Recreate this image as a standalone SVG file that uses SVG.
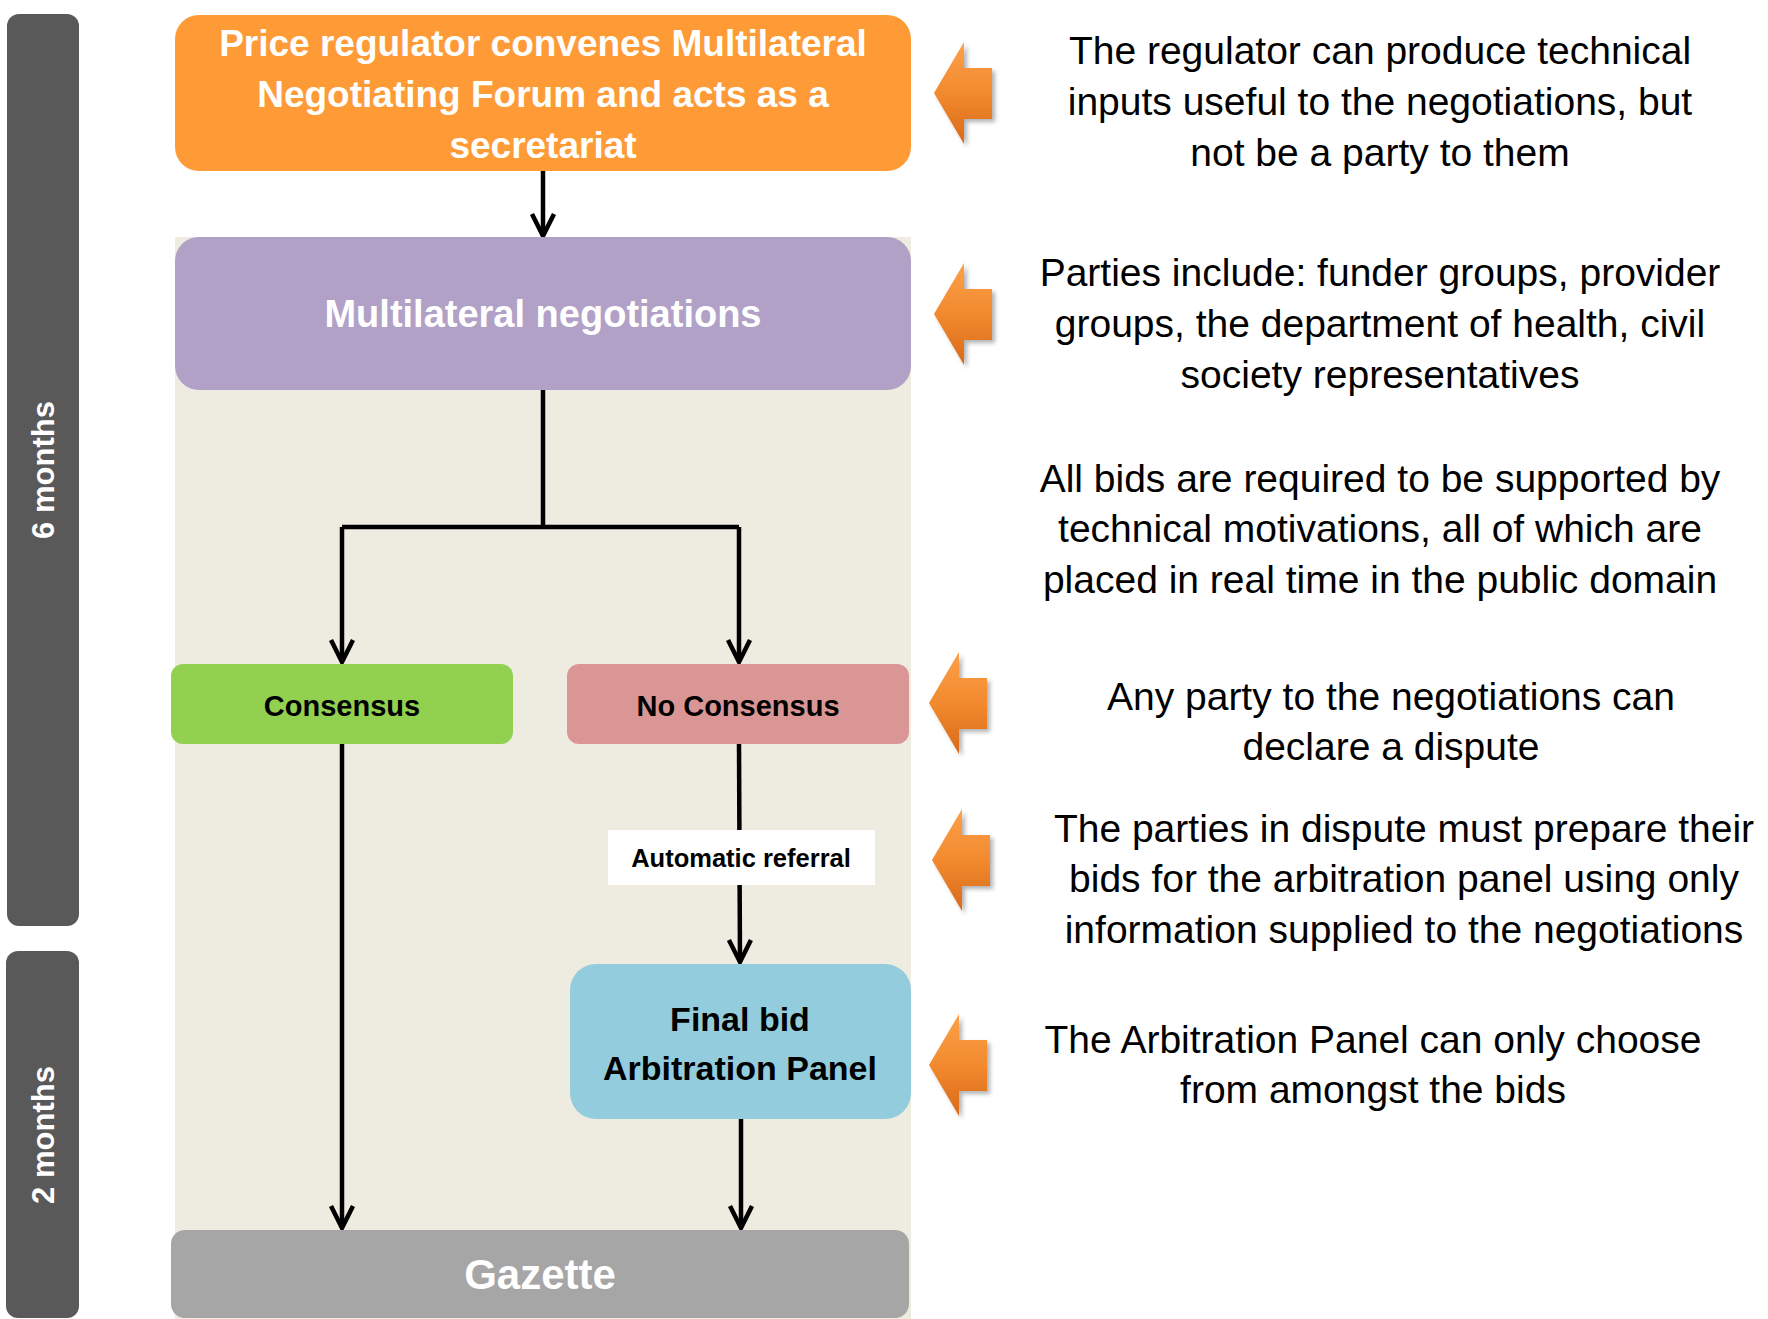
<svg xmlns="http://www.w3.org/2000/svg" width="1768" height="1319" viewBox="0 0 1768 1319">
  <style>
    .bold { font-family: "Liberation Sans", Arial, sans-serif; font-weight: bold; text-anchor: middle; }
    .note { font-family: "Liberation Sans", Arial, sans-serif; font-size: 39px; fill: #000; text-anchor: middle; }
    .conn { fill: none; stroke: #000; stroke-width: 4.5; }
    .white { fill: #fff; }
  </style>
  <defs>
    <linearGradient id="og" x1="0" y1="0" x2="0" y2="1">
      <stop offset="0" stop-color="#FCA04A"/>
      <stop offset="0.5" stop-color="#F28A2E"/>
      <stop offset="1" stop-color="#D9691A"/>
    </linearGradient>
    <filter id="sh" x="-30%" y="-30%" width="160%" height="160%">
      <feDropShadow dx="3" dy="3" stdDeviation="2" flood-color="#000" flood-opacity="0.3"/>
    </filter>
    <path id="larrow" d="M0,0 L30,-51 L30,-25 L58,-25 L58,26 L30,26 L30,51 Z"/>
    <marker id="ah" markerUnits="userSpaceOnUse" markerWidth="40" markerHeight="40" refX="0" refY="0" viewBox="-30 -20 40 40" orient="auto" overflow="visible">
      <path d="M-22,-11 L0,0 L-22,11" fill="none" stroke="#000" stroke-width="4.5" stroke-linejoin="miter"/>
    </marker>
  </defs>

  <rect width="1768" height="1319" fill="#fff"/>

  <!-- time bars -->
  <g id="bar-6months">
    <rect x="7" y="14" width="72" height="912" rx="12" fill="#595959"/>
    <text class="bold" font-size="31" fill="#fff" transform="translate(54,470) rotate(-90)">6 months</text>
  </g>
  <g id="bar-2months">
    <rect x="6" y="951" width="73" height="367" rx="12" fill="#595959"/>
    <text class="bold" font-size="31" fill="#fff" transform="translate(54,1135) rotate(-90)">2 months</text>
  </g>

  <!-- background panel -->
  <rect id="panel" x="175" y="237" width="736" height="1082" fill="#EEECE1"/>

  <!-- connectors -->
  <g id="connectors">
    <path class="conn" d="M543,171 L543,236" marker-end="url(#ah)"/>
    <path class="conn" d="M543,390 L543,527"/>
    <path class="conn" d="M342,527 L739,527"/>
    <path class="conn" d="M342,527 L342,662" marker-end="url(#ah)"/>
    <path class="conn" d="M739,527 L739,662" marker-end="url(#ah)"/>
    <path class="conn" d="M739,744 L740,962" marker-end="url(#ah)"/>
    <path class="conn" d="M342,744 L342,1228" marker-end="url(#ah)"/>
    <path class="conn" d="M741,1119 L741,1228" marker-end="url(#ah)"/>
    <g id="label-automatic-referral">
      <rect x="608" y="830" width="267" height="55" fill="#fff"/>
      <text class="bold" font-size="25.5" x="741" y="867" fill="#000">Automatic referral</text>
    </g>
  </g>

  <!-- nodes -->
  <g id="node-regulator">
    <rect x="175" y="15" width="736" height="156" rx="24" fill="#FF9B37"/>
    <text class="bold" font-size="37" fill="#fff" x="543" y="56">Price regulator convenes Multilateral</text>
    <text class="bold" font-size="37" fill="#fff" x="543" y="107">Negotiating Forum and acts as a</text>
    <text class="bold" font-size="37" fill="#fff" x="543" y="158">secretariat</text>
  </g>
  <g id="node-multilateral">
    <rect x="175" y="237" width="736" height="153" rx="24" fill="#B2A1C7"/>
    <text class="bold" font-size="38" fill="#fff" x="543" y="327">Multilateral negotiations</text>
  </g>
  <g id="node-consensus">
    <rect x="171" y="664" width="342" height="80" rx="12" fill="#92D050"/>
    <text class="bold" font-size="29" fill="#000" x="342" y="716">Consensus</text>
  </g>
  <g id="node-noconsensus">
    <rect x="567" y="664" width="342" height="80" rx="12" fill="#DA9694"/>
    <text class="bold" font-size="29" fill="#000" x="738" y="716">No Consensus</text>
  </g>
  <g id="node-arbitration">
    <rect x="570" y="964" width="341" height="155" rx="26" fill="#93CDDD"/>
    <text class="bold" font-size="34" fill="#000" x="740" y="1031">Final bid</text>
    <text class="bold" font-size="34" fill="#000" x="740" y="1080">Arbitration Panel</text>
  </g>
  <g id="node-gazette">
    <rect x="171" y="1230" width="738" height="88" rx="14" fill="#A6A6A6"/>
    <text class="bold" font-size="42" fill="#fff" x="540" y="1289">Gazette</text>
  </g>

  <!-- side arrows -->
  <g id="side-arrows" fill="url(#og)" filter="url(#sh)">
    <use href="#larrow" x="934" y="93"/>
    <use href="#larrow" x="934" y="314"/>
    <use href="#larrow" x="929" y="703"/>
    <use href="#larrow" x="932" y="860"/>
    <use href="#larrow" x="929" y="1065"/>
  </g>

  <!-- notes -->
  <g id="note-1">
    <text class="note" x="1380" y="64">The regulator can produce technical</text>
    <text class="note" x="1380" y="115">inputs useful to the negotiations, but</text>
    <text class="note" x="1380" y="166">not be a party to them</text>
  </g>
  <g id="note-2">
    <text class="note" x="1380" y="286">Parties include: funder groups, provider</text>
    <text class="note" x="1380" y="337">groups, the department of health, civil</text>
    <text class="note" x="1380" y="388">society representatives</text>
  </g>
  <g id="note-3">
    <text class="note" x="1380" y="492">All bids are required to be supported by</text>
    <text class="note" x="1380" y="542">technical motivations, all of which are</text>
    <text class="note" x="1380" y="593">placed in real time in the public domain</text>
  </g>
  <g id="note-4">
    <text class="note" x="1391" y="710">Any party to the negotiations can</text>
    <text class="note" x="1391" y="760">declare a dispute</text>
  </g>
  <g id="note-5">
    <text class="note" x="1404" y="842">The parties in dispute must prepare their</text>
    <text class="note" x="1404" y="892">bids for the arbitration panel using only</text>
    <text class="note" x="1404" y="943">information supplied to the negotiations</text>
  </g>
  <g id="note-6">
    <text class="note" x="1373" y="1053">The Arbitration Panel can only choose</text>
    <text class="note" x="1373" y="1103">from amongst the bids</text>
  </g>
</svg>
